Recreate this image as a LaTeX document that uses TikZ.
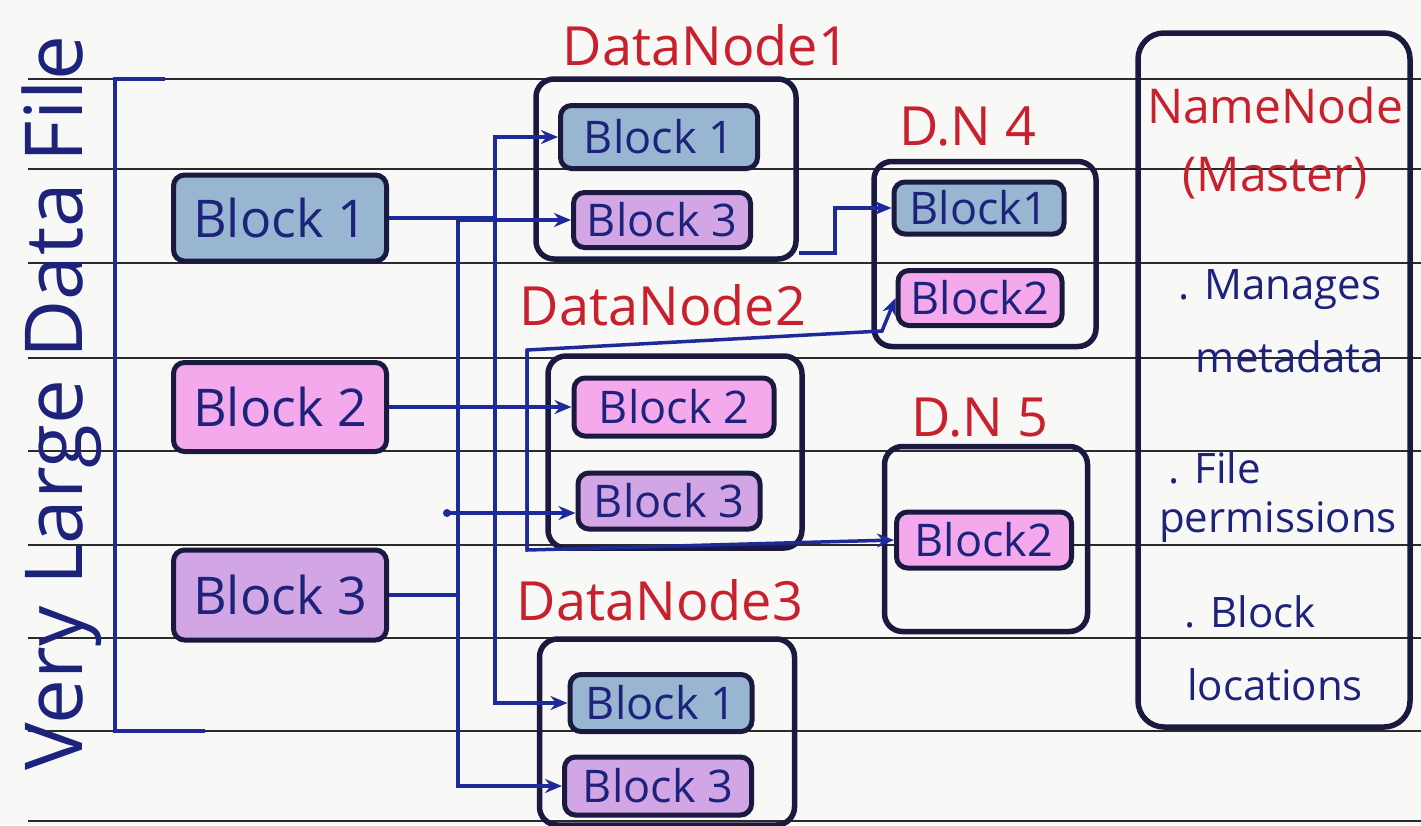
\documentclass[tikz,border=0pt]{standalone}
\usepackage{fontspec}
\setmainfont{Open Sans}
\usetikzlibrary{arrows.meta}
\definecolor{paper}{HTML}{F8F8F6}
\definecolor{rulecol}{HTML}{2A2A2A}
\definecolor{ink}{HTML}{1A1A40}
\definecolor{pen}{HTML}{1E2A9A}
\definecolor{txtblue}{HTML}{1D237A}
\definecolor{redpen}{HTML}{C8202C}
\definecolor{bblue}{HTML}{98B6D2}
\definecolor{bpink}{HTML}{F4A9EC}
\definecolor{bpurple}{HTML}{D2A6E4}
\tikzset{
  rule/.style={draw=rulecol, line width=2pt},
  blk/.style={draw=ink, line width=5pt, rounded corners=11pt, inner sep=0pt, text=txtblue},
  bigblk/.style={blk, font=\fontsize{52}{60}\selectfont},
  smallblk/.style={blk, font=\fontsize{45}{52}\selectfont},
  dnbox/.style={draw=ink, line width=5.5pt, rounded corners=18pt, inner sep=0pt},
  lbl/.style={text=redpen, font=\fontsize{54}{60}\selectfont, inner sep=0pt},
  nntitle/.style={text=redpen, font=\fontsize{48}{54}\selectfont, inner sep=0pt},
  nnitem/.style={text=txtblue, font=\fontsize{42}{48}\selectfont, inner sep=0pt},
  conn/.style={draw=pen, line width=3.5pt},
  arr/.style={-{Stealth[length=17pt,width=14pt]}}
}
\begin{document}
\begin{tikzpicture}[x=1pt,y=-1pt]
\useasboundingbox (0,0) rectangle (1421,825);
\fill[paper] (0,0) rectangle (1421,825);
\foreach \yy in {79,169,263,358,451,545,638,731,821}
  \draw[rule] (28,\yy) -- (1421,\yy);

% vertical title and bracket
\node[rotate=90, text=txtblue, font=\fontsize{80}{90}\selectfont, inner sep=0pt] (title) at (62,403) {Very Large Data File};
\coordinate (brt) at (165,79);
\coordinate (brb) at (205,731);
\draw[draw=pen, line width=4pt] (brt) -- (115,79) -- (115,731) -- (brb);

% left blocks
\node[bigblk, fill=bblue,   minimum width=213pt, minimum height=86pt] (lb1) at (280,218) {Block 1};
\node[bigblk, fill=bpink,   minimum width=213pt, minimum height=89pt] (lb2) at (280,407) {Block 2};
\node[bigblk, fill=bpurple, minimum width=213pt, minimum height=90pt] (lb3) at (280,595) {Block 3};

% DataNode 1
\node[lbl] (l1) at (706,45) {DataNode1};
\node[dnbox, minimum width=260pt, minimum height=180pt] (dn1) at (666,169) {};
\node[smallblk, fill=bblue,   minimum width=197pt, minimum height=63pt] (d1b1) at (659,137) {Block 1};
\node[smallblk, fill=bpurple, minimum width=177pt, minimum height=55pt] (d1b3) at (662,220) {Block 3};

% DataNode 2
\node[lbl] (l2) at (663,305) {DataNode2};
\node[dnbox, minimum width=254pt, minimum height=192pt] (dn2) at (675,452) {};
\node[smallblk, fill=bpink,   minimum width=200pt, minimum height=58pt] (d2b2) at (674,407) {Block 2};
\node[smallblk, fill=bpurple, minimum width=182pt, minimum height=56pt] (d2b3) at (669,501) {Block 3};

% DataNode 3
\node[lbl] (l3) at (660,600) {DataNode3};
\node[dnbox, minimum width=255pt, minimum height=186pt] (dn3) at (667,732) {};
\node[smallblk, fill=bblue,   minimum width=182pt, minimum height=57pt] (d3b1) at (661,703) {Block 1};
\node[smallblk, fill=bpurple, minimum width=187pt, minimum height=58pt] (d3b3) at (658,786) {Block 3};

% D.N 4
\node[lbl] (l4) at (968,126) {D.N 4};
\node[dnbox, minimum width=222pt, minimum height=185pt] (dn4) at (985,254) {};
\node[smallblk, fill=bblue, minimum width=170pt, minimum height=52pt] (d4b1) at (979,208) {Block1};
\node[smallblk, fill=bpink, minimum width=164pt, minimum height=55pt] (d4b2) at (980,298) {Block2};

% D.N 5
\node[lbl] (l5) at (980,418) {D.N 5};
\node[dnbox, minimum width=203pt, minimum height=185pt] (dn5) at (986,539) {};
\node[smallblk, fill=bpink, minimum width=175pt, minimum height=56pt] (d5b2) at (984,540) {Block2};

% NameNode
\node[dnbox, minimum width=272pt, minimum height=694pt, rounded corners=26pt] (nn) at (1274,380) {};
\node[nntitle] (nn1) at (1275,105) {NameNode};
\node[nntitle] (nn2) at (1275,178) {(Master)};
\node[nnitem] (nn3) at (1280,290) {. Manages};
\node[nnitem] (nn4) at (1290,357) {metadata};
\node[nnitem] (nn5) at (1215,468) {. File};
\node[nnitem] (nn6) at (1278,522) {permissions};
\node[nnitem] (nn7) at (1250,612) {. Block};
\node[nnitem] (nn8) at (1275,685) {locations};

% connector junctions
\coordinate (j1) at (495,218);
\coordinate (j3) at (458,595);
\coordinate (j2t) at (527,350);
\coordinate (j2b) at (527,550);
\coordinate (b3s) at (447,513);
\coordinate (k1) at (882,331);
\coordinate (r1) at (835,253);

% Block 1 replicas
\draw[conn] (lb1.east) -- (j1);
\draw[conn,arr] (j1) |- (d1b1.west);
\draw[conn,arr] (j1) |- (d3b1.west);
% Block 3 replicas
\draw[conn] (lb3.east) -- (j3);
\draw[conn,arr] (j3) |- (d1b3.west);
\draw[conn,arr] (j3) |- (d3b3.west);
\fill[pen] (b3s) circle (4pt);
\draw[conn,arr] (b3s) -- (b3s -| d2b3.west);
% Block 2 replicas
\draw[conn,arr] (lb2.east) -- (d2b2.west);
\draw[conn,arr] (j2b) -- (j2t) -- (k1) -- (d4b2.west);
\draw[conn,arr] (j2t) -- (j2b) -- (d5b2.west);
% DataNode1 to D.N 4
\draw[conn,arr] (dn1.east |- r1) -- (r1) |- (d4b1.west);
\end{tikzpicture}
\end{document}
